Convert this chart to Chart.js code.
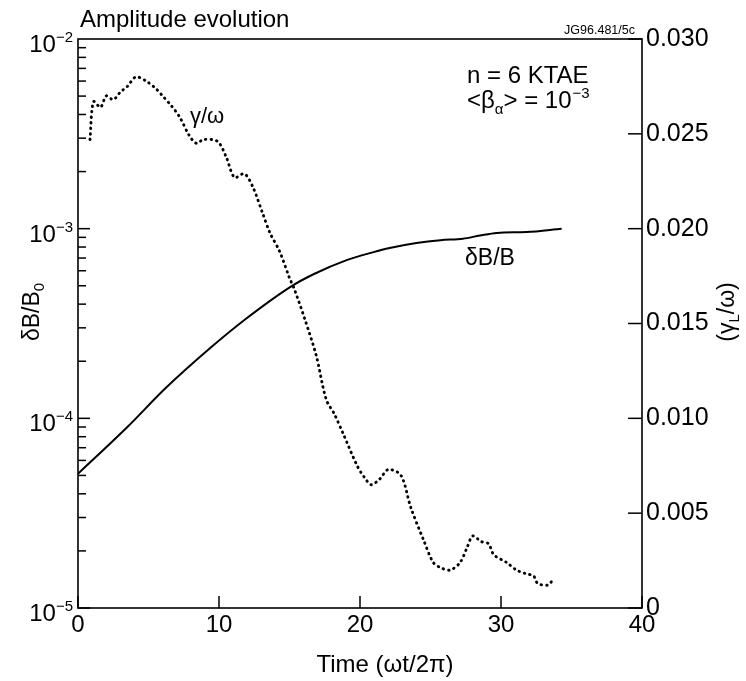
<!DOCTYPE html>
<html>
<head>
<meta charset="utf-8">
<script src="https://cdn.jsdelivr.net/npm/chart.js@4.4.1/dist/chart.umd.min.js"></script>
<style>
html,body{margin:0;padding:0;background:#fff;}
#wrap{width:746px;height:681px;}
</style>
</head>
<body>
<div id="wrap"><canvas id="c" width="746" height="681"></canvas></div>
<script>
// ---- data ----
const dBTime  = [0, 3.5, 6.2, 9.5, 11.8, 15.1, 16.7, 19.1, 20.9, 22.1, 24.0, 25.7, 27.3, 28.5, 29.7, 31.8, 34.3];
const dBValue = [5.1e-5, 9.0e-5, 1.44e-4, 2.39e-4, 3.3e-4, 4.95e-4, 5.75e-4, 6.85e-4, 7.5e-4, 7.9e-4, 8.4e-4, 8.7e-4, 8.85e-4, 9.2e-4, 9.5e-4, 9.6e-4, 1.0e-3];

const gTime  = [0.85, 1.1, 1.6, 2.0, 2.5, 3.0, 3.5, 4.1, 4.8, 5.5, 6.0, 6.6, 7.2, 7.9, 8.4, 8.9, 9.9, 10.5, 11.1, 11.8, 12.4, 13.1, 13.6, 14.3, 15.0, 15.3, 16.1, 16.9, 17.6, 18.2, 18.8, 19.8, 20.3, 20.8, 21.4, 22.0, 22.9, 23.6, 24.5, 25.2, 25.8, 26.4, 27.1, 27.6, 28.0, 28.6, 29.1, 29.5, 30.4, 31.1, 31.8, 32.3, 32.6, 33.3, 33.6];
const gValue = [0.0247, 0.0267, 0.0264, 0.0270, 0.0268, 0.0272, 0.0275, 0.0280, 0.0278, 0.0274, 0.0270, 0.0265, 0.0259, 0.0249, 0.0245, 0.0247, 0.0246, 0.0238, 0.0227, 0.0229, 0.0222, 0.0208, 0.0198, 0.0188, 0.0174, 0.0169, 0.0152, 0.0133, 0.0110, 0.0102, 0.0092, 0.0075, 0.0069, 0.0065, 0.0068, 0.0073, 0.0070, 0.0053, 0.0036, 0.0024, 0.0021, 0.0020, 0.0024, 0.0032, 0.0038, 0.0035, 0.0034, 0.0028, 0.0024, 0.0020, 0.0018, 0.0017, 0.0013, 0.0012, 0.0014];

const xTickValues = [0, 10, 20, 30, 40];
const leftDecades = [1e-5, 1e-4, 1e-3, 1e-2];
const leftExponents = ['\u22125', '\u22124', '\u22123', '\u22122'];
const rightTickValues = [0, 0.005, 0.010, 0.015, 0.020, 0.025, 0.030];

const FONT = '"Liberation Sans", Arial, Helvetica, sans-serif';

const dBData = dBTime.map((t, i) => ({x: t, y: dBValue[i]}));
const gData = gTime.map((t, i) => ({x: t, y: gValue[i]}));

function font(sz){ return sz + 'px ' + FONT; }

const decorPlugin = {
  id: 'decor',
  afterDraw(chart) {
    const ctx = chart.ctx;
    const a = chart.chartArea;
    const sx = chart.scales.x, sy = chart.scales.y, sy2 = chart.scales.y2;
    ctx.save();
    ctx.strokeStyle = '#000';
    ctx.fillStyle = '#000';
    // frame
    ctx.lineWidth = 1.6;
    ctx.strokeRect(a.left, a.top, a.right - a.left, a.bottom - a.top);
    // left log ticks (inside)
    ctx.lineWidth = 1.5;
    for (let e = -5; e <= -3; e++) {
      for (let m = 1; m <= 9; m++) {
        const v = m * Math.pow(10, e);
        const py = sy.getPixelForValue(v);
        const len = (m === 1) ? 12 : 8;
        ctx.beginPath(); ctx.moveTo(a.left, py); ctx.lineTo(a.left + len, py); ctx.stroke();
      }
    }
    // right linear ticks (inside)
    rightTickValues.forEach(v => {
      const py = sy2.getPixelForValue(v);
      ctx.beginPath(); ctx.moveTo(a.right, py); ctx.lineTo(a.right - 14, py); ctx.stroke();
    });
    // x ticks (inside)
    xTickValues.forEach(v => {
      const px = sx.getPixelForValue(v);
      ctx.beginPath(); ctx.moveTo(px, a.bottom); ctx.lineTo(px, a.bottom - 12); ctx.stroke();
    });
    // left tick labels 10^n
    leftDecades.forEach((v, i) => {
      const py = sy.getPixelForValue(v);
      const right = 73;
      ctx.font = font(15);
      const supW = ctx.measureText(leftExponents[i]).width;
      ctx.textAlign = 'left'; ctx.textBaseline = 'alphabetic';
      ctx.fillText(leftExponents[i], right - supW, py + 3);
      ctx.font = font(24);
      ctx.textAlign = 'right';
      ctx.fillText('10', right - supW, py + 13);
    });
    // title
    ctx.textAlign = 'left'; ctx.textBaseline = 'alphabetic';
    ctx.font = font(24);
    ctx.fillText('Amplitude evolution', 80, 27);
    // code label
    ctx.font = font(12.5);
    ctx.textAlign = 'right';
    ctx.fillText('JG96.481/5c', 635, 34);
    // annotations
    ctx.textAlign = 'left';
    ctx.font = font(24);
    ctx.fillText('n = 6 KTAE', 467, 83);
    // <β_α> = 10^-3
    let x = 467; const by = 108;
    ctx.font = font(24);
    ctx.fillText('<\u03B2', x, by); x += ctx.measureText('<\u03B2').width;
    ctx.font = font(15);
    ctx.fillText('\u03B1', x, by + 6); x += ctx.measureText('\u03B1').width;
    ctx.font = font(24);
    ctx.fillText('> = 10', x, by); x += ctx.measureText('> = 10').width;
    ctx.font = font(15);
    ctx.fillText('\u22123', x + 1, by - 10);
    // curve labels
    ctx.font = font(22);
    ctx.fillText('\u03B3/\u03C9', 190, 123);
    ctx.font = font(23);
    ctx.fillText('\u03B4B/B', 465, 265);
    // x axis title
    ctx.textAlign = 'center';
    ctx.font = font(24);
    ctx.fillText('Time (\u03C9t/2\u03C0)', 385, 672);
    // rotated axis titles
    function rotatedWithSub(cx, cy, main, sub, tail) {
      ctx.save();
      ctx.translate(cx, cy);
      ctx.rotate(-Math.PI / 2);
      ctx.textAlign = 'left';
      ctx.font = font(23);
      const w1 = ctx.measureText(main).width;
      ctx.font = font(15);
      const w2 = ctx.measureText(sub).width;
      ctx.font = font(23);
      const w3 = ctx.measureText(tail).width;
      const total = w1 + w2 + w3;
      let xx = -total / 2;
      ctx.font = font(23);
      ctx.fillText(main, xx, 8); xx += w1;
      ctx.font = font(15);
      ctx.fillText(sub, xx, 13); xx += w2;
      ctx.font = font(23);
      ctx.fillText(tail, xx, 8);
      ctx.restore();
    }
    rotatedWithSub(31, 312, '\u03B4B/B', '0', '');
    rotatedWithSub(726, 312, '(\u03B3', 'L', '/\u03C9)');
    ctx.restore();
  }
};

new Chart(document.getElementById('c'), {
  type: 'line',
  data: {
    datasets: [
      {
        label: 'dB/B',
        data: dBData,
        xAxisID: 'x', yAxisID: 'y',
        borderColor: '#000',
        borderWidth: 2,
        pointRadius: 0,
        cubicInterpolationMode: 'monotone',
        fill: false
      },
      {
        label: 'gamma/omega',
        data: gData,
        xAxisID: 'x', yAxisID: 'y2',
        borderColor: '#000',
        borderWidth: 2.9,
        borderDash: [0.5, 5],
        borderCapStyle: 'round',
        pointRadius: 0,
        tension: 0.3,
        fill: false
      }
    ]
  },
  options: {
    responsive: false,
    animation: false,
    devicePixelRatio: 1,
    layout: { padding: { top: 39, left: 0, right: 0, bottom: 0 } },
    plugins: { legend: { display: false }, tooltip: { enabled: false }, title: { display: false } },
    scales: {
      x: {
        type: 'linear', position: 'bottom', min: 0, max: 40,
        afterBuildTicks: s => { s.ticks = xTickValues.map(v => ({value: v})); },
        grid: { display: false, drawTicks: false },
        border: { display: false },
        ticks: { color: '#000', font: { family: FONT, size: 24 }, padding: 3, maxRotation: 0, autoSkip: false },
        afterFit: s => { s.height = 73; }
      },
      y: {
        type: 'logarithmic', position: 'left', min: 1e-5, max: 1e-2,
        grid: { display: false, drawTicks: false },
        border: { display: false },
        ticks: { display: false },
        afterFit: s => { s.width = 78; }
      },
      y2: {
        type: 'linear', position: 'right', min: 0, max: 0.03,
        afterBuildTicks: s => { s.ticks = rightTickValues.map(v => ({value: v})); },
        grid: { display: false, drawTicks: false },
        border: { display: false },
        ticks: {
          color: '#000', font: { family: FONT, size: 25 }, padding: 4, autoSkip: false,
          callback: v => (v === 0 ? '0' : v.toFixed(3))
        },
        afterFit: s => { s.width = 104; }
      }
    }
  },
  plugins: [decorPlugin]
});
</script>
</body>
</html>
